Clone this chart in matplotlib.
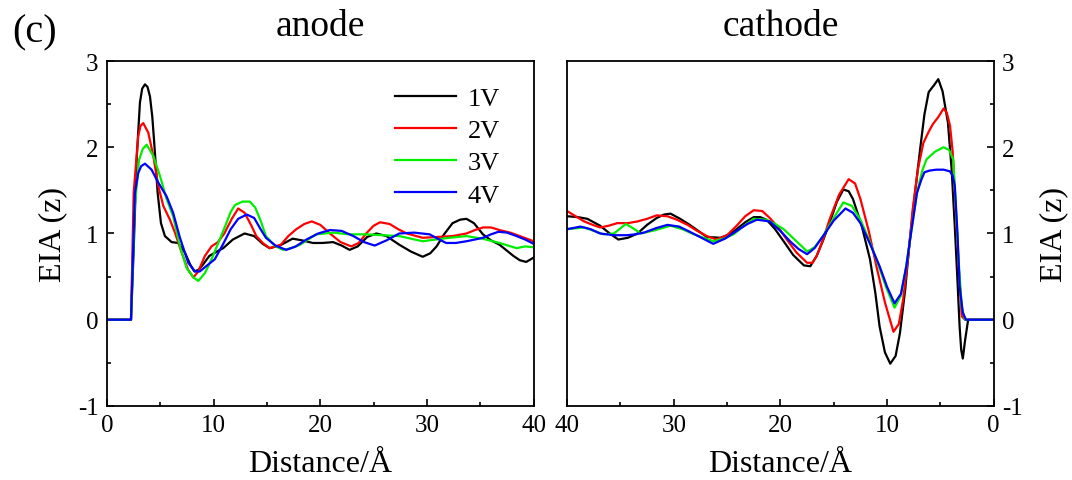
import matplotlib
matplotlib.use('Agg')
import matplotlib.pyplot as plt
from matplotlib.ticker import MultipleLocator

plt.rcParams['font.family'] = ['Liberation Serif', 'DejaVu Serif']
plt.rcParams['axes.unicode_minus'] = False

# anode side: distance (A) and EIA values
anode_x1 = [0, 2.25, 2.5, 2.78, 3.09, 3.3, 3.56, 3.8, 4.03, 4.25, 4.43, 4.75, 5.06, 5.43, 6.06, 6.68,
            7.3, 7.8, 8.2, 8.6, 9.0, 9.6, 10.3, 10.9, 11.8, 12.9, 13.8, 14.6, 15.25, 16.2, 17.4,
            18.3, 19.3, 20.2, 21.2, 22.0, 22.75, 23.5, 24.4, 25.25, 26.2, 27.4, 28.5, 29.6, 30.3,
            30.9, 31.6, 32.4, 33.1, 33.7, 34.4, 35.25, 36.0, 36.8, 37.5, 38.1, 38.7, 39.3, 40]
anode_y1 = [0, 0, 0.8, 1.86, 2.52, 2.68, 2.73, 2.70, 2.59, 2.35, 2.05, 1.47, 1.12, 0.97, 0.90, 0.89,
            0.78, 0.64, 0.56, 0.58, 0.64, 0.74, 0.79, 0.83, 0.93, 1.0, 0.97, 0.88, 0.83, 0.86, 0.94,
            0.92, 0.89, 0.89, 0.90, 0.86, 0.81, 0.85, 0.96, 1.0, 0.97, 0.87, 0.79, 0.73, 0.77,
            0.85, 0.99, 1.12, 1.16, 1.17, 1.12, 0.99, 0.92, 0.87, 0.80, 0.74, 0.69, 0.67, 0.72]
anode_x2 = [0, 2.25, 2.5, 2.93, 3.15, 3.4, 3.87, 4.34, 4.81, 5.28, 5.9, 6.37, 7.0, 7.6, 8.1, 8.56,
            9.18, 9.8, 10.4, 11.0, 11.7, 12.3, 12.9, 13.5, 14.0, 14.6, 15.25, 16.3, 17.0, 17.75,
            18.5, 19.2, 20.0, 20.9, 21.9, 22.9, 23.6, 24.3, 25.0, 25.6, 26.5, 27.3, 28.1, 29.6,
            31.0, 32.4, 33.7, 34.5, 35.25, 36.0, 36.8, 37.8, 38.7, 40]
anode_y2 = [0, 0, 1.47, 2.13, 2.25, 2.28, 2.17, 1.90, 1.55, 1.32, 1.16, 1.01, 0.78, 0.58, 0.49, 0.56,
            0.74, 0.85, 0.90, 1.0, 1.17, 1.29, 1.24, 1.10, 0.97, 0.89, 0.83, 0.87, 0.97, 1.05,
            1.11, 1.14, 1.10, 1.0, 0.90, 0.85, 0.89, 1.0, 1.09, 1.13, 1.11, 1.05, 1.0, 0.95,
            0.96, 0.97, 1.0, 1.04, 1.07, 1.07, 1.04, 1.01, 0.97, 0.91]
anode_x3 = [0, 2.25, 2.6, 3.0, 3.35, 3.72, 4.34, 4.96, 5.59, 6.2, 6.84, 7.46, 8.1, 8.56, 9.18, 9.8,
            10.4, 11.0, 11.6, 12.0, 12.7, 13.4, 13.9, 14.4, 14.9, 15.7, 16.5, 17.3, 18.1, 19.6,
            21.2, 22.7, 24.3, 25.8, 27.4, 28.5, 29.6, 30.8, 32.1, 33.7, 35.2, 36.8, 37.6, 38.4,
            39.2, 40]
anode_y3 = [0, 0, 1.3, 1.85, 1.98, 2.03, 1.90, 1.67, 1.40, 1.20, 0.85, 0.60, 0.49, 0.45, 0.54, 0.70,
            0.88, 1.06, 1.25, 1.33, 1.37, 1.37, 1.30, 1.15, 0.97, 0.86, 0.81, 0.83, 0.87, 0.99,
            1.01, 0.99, 0.99, 0.98, 0.97, 0.94, 0.91, 0.93, 0.95, 0.97, 0.94, 0.89, 0.86, 0.83,
            0.85, 0.84]
anode_x4 = [0, 2.25, 2.62, 2.93, 3.2, 3.56, 4.18, 4.81, 5.59, 6.2, 6.84, 7.62, 8.24, 8.7, 9.49,
            10.1, 10.9, 11.6, 12.3, 13.1, 13.8, 14.4, 14.9, 15.8, 16.8, 17.7, 18.7, 19.8, 20.9,
            22.0, 23.1, 24.1, 25.1, 26.2, 27.4, 28.8, 30.25, 31.0, 31.8, 32.7, 33.7, 34.5, 35.25,
            36.0, 36.7, 37.5, 38.4, 39.2, 40]
anode_y4 = [0, 0, 1.47, 1.70, 1.78, 1.81, 1.74, 1.59, 1.43, 1.24, 0.95, 0.66, 0.56, 0.56, 0.64,
            0.70, 0.88, 1.05, 1.17, 1.22, 1.18, 1.05, 0.95, 0.86, 0.81, 0.85, 0.93, 1.0, 1.04,
            1.03, 0.97, 0.90, 0.86, 0.92, 1.0, 1.01, 0.99, 0.94, 0.89, 0.89, 0.91, 0.93, 0.95,
            0.99, 1.02, 1.01, 0.97, 0.93, 0.88]

# cathode side (axis runs from 40 down to 0)
cath_x1 = [40, 39.0, 38.1, 37.5, 36.9, 36.0, 35.2, 34.3, 33.4, 32.5, 31.6, 30.9, 30.3, 29.4, 28.5,
           27.7, 26.9, 25.6, 24.8, 24.1, 23.3, 22.5, 21.9, 21.3, 20.5, 19.7, 18.8, 17.8, 17.2,
           16.6, 16.0, 15.4, 14.7, 14.1, 13.6, 13.2, 12.4, 11.6, 11.1, 10.7, 10.2, 9.7, 9.2, 8.8,
           8.3, 7.9, 7.4, 6.9, 6.5, 6.1, 5.6, 5.2, 4.8, 4.3, 3.95, 3.65, 3.4, 3.2, 3.05, 2.9,
           2.7, 2.4, 0]
cath_y1 = [1.20, 1.19, 1.17, 1.13, 1.09, 1.0, 0.93, 0.95, 1.0, 1.10, 1.18, 1.22, 1.23, 1.17, 1.10,
           1.03, 0.96, 0.95, 0.99, 1.05, 1.13, 1.19, 1.19, 1.16, 1.05, 0.91, 0.75, 0.63, 0.62,
           0.74, 0.92, 1.12, 1.37, 1.51, 1.49, 1.40, 1.10, 0.70, 0.31, -0.08, -0.38, -0.51, -0.42,
           -0.16, 0.35, 0.89, 1.45, 1.98, 2.38, 2.64, 2.72, 2.79, 2.65, 2.29, 1.75, 1.08, 0.45,
           -0.08, -0.35, -0.45, -0.25, 0, 0]
cath_x2 = [40, 39.2, 38.4, 37.6, 36.9, 36.1, 35.3, 34.3, 33.4, 32.5, 31.6, 30.6, 29.7, 28.7, 27.8,
           26.9, 26.0, 25.0, 24.1, 23.3, 22.5, 21.7, 21.0, 20.2, 19.4, 18.5, 17.5, 17.0, 16.6,
           16.0, 15.4, 14.5, 13.6, 13.0, 12.5, 11.7, 11.0, 10.2, 9.4, 8.9, 8.5, 8.0, 7.6, 7.1,
           6.6, 6.1, 5.7, 5.2, 4.7, 4.4, 4.1, 3.85, 3.65, 3.3, 3.0, 2.7, 0]
cath_y2 = [1.26, 1.20, 1.14, 1.10, 1.07, 1.09, 1.12, 1.12, 1.14, 1.17, 1.21, 1.20, 1.16, 1.10, 1.03,
           0.97, 0.93, 0.98, 1.09, 1.20, 1.27, 1.26, 1.18, 1.07, 0.93, 0.78, 0.66, 0.66, 0.74,
           0.93, 1.16, 1.45, 1.63, 1.58, 1.40, 1.02, 0.62, 0.20, -0.14, -0.05, 0.23, 0.75, 1.28,
           1.75, 2.05, 2.18, 2.27, 2.35, 2.45, 2.40, 2.25, 1.95, 1.47, 0.65, 0.04, 0, 0]
cath_x3 = [40, 39.2, 38.4, 37.5, 36.6, 35.6, 35.0, 34.5, 33.8, 33.1, 31.7, 30.3, 29.2, 28.1, 27.2,
           26.3, 25.3, 24.4, 23.4, 22.5, 21.3, 20.5, 19.7, 19.1, 18.5, 17.9, 17.5, 16.8, 16.0,
           15.0, 14.1, 13.3, 12.5, 11.7, 11.0, 10.1, 9.3, 8.7, 8.2, 7.7, 7.2, 6.7, 6.3, 5.5,
           4.7, 4.2, 3.8, 3.55, 3.3, 3.0, 2.7, 0]
cath_y3 = [1.05, 1.06, 1.07, 1.03, 0.99, 1.0, 1.06, 1.11, 1.06, 1.0, 1.04, 1.09, 1.05, 0.99, 0.95,
           0.91, 0.94, 0.99, 1.09, 1.17, 1.16, 1.11, 1.05, 0.98, 0.91, 0.84, 0.79, 0.84, 0.97,
           1.18, 1.36, 1.32, 1.16, 0.93, 0.70, 0.38, 0.14, 0.28, 0.62, 1.05, 1.47, 1.73, 1.86,
           1.95, 2.0, 1.97, 1.86, 1.30, 0.70, 0.15, 0, 0]
cath_x4 = [40, 38.75, 37.8, 36.9, 35.6, 34.4, 33.6, 32.8, 31.7, 30.6, 29.5, 28.5, 27.4, 26.3, 25.2,
           24.1, 23.1, 22.2, 21.0, 20.0, 19.1, 18.3, 17.5, 16.8, 16.0, 15.0, 13.9, 13.2, 12.5,
           11.6, 10.7, 10.0, 9.3, 8.7, 8.2, 7.7, 7.2, 6.8, 6.5, 6.0, 5.4, 4.7, 4.1, 3.85, 3.65,
           3.4, 3.2, 2.9, 2.6, 0]
cath_y4 = [1.05, 1.08, 1.05, 1.0, 0.98, 0.98, 0.99, 1.01, 1.06, 1.10, 1.08, 1.02, 0.95, 0.88, 0.94,
           1.03, 1.11, 1.16, 1.14, 1.03, 0.91, 0.82, 0.76, 0.83, 0.97, 1.15, 1.29, 1.24, 1.12,
           0.88, 0.62, 0.38, 0.19, 0.30, 0.62, 1.05, 1.47, 1.62, 1.71, 1.73, 1.74, 1.74, 1.72,
           1.67, 1.55, 1.0, 0.39, 0.08, 0, 0]

labels = ['1V', '2V', '3V', '4V']
colors = ['black', '#ff0000', '#00ee00', '#0000ff']

fig = plt.figure(figsize=(10.72, 4.81), dpi=100)
ax1 = fig.add_axes([0.0998, 0.154, 0.398, 0.717])
ax2 = fig.add_axes([0.529, 0.154, 0.398, 0.717])

anode = [(anode_x1, anode_y1), (anode_x2, anode_y2), (anode_x3, anode_y3), (anode_x4, anode_y4)]
cath = [(cath_x1, cath_y1), (cath_x2, cath_y2), (cath_x3, cath_y3), (cath_x4, cath_y4)]

for (x, y), c, lab in zip(anode, colors, labels):
    ax1.plot(x, y, color=c, lw=1.6, label=lab)
for (x, y), c in zip(cath, colors):
    ax2.plot(x, y, color=c, lw=1.6)

for ax in (ax1, ax2):
    ax.set_ylim(-1, 3)
    ax.yaxis.set_major_locator(MultipleLocator(1))
    ax.yaxis.set_minor_locator(MultipleLocator(0.5))
    ax.xaxis.set_major_locator(MultipleLocator(10))
    ax.xaxis.set_minor_locator(MultipleLocator(5))
    ax.tick_params(which='both', direction='in', labelsize=18, top=False, pad=6)
    ax.tick_params(which='major', length=5, width=1.2)
    ax.tick_params(which='minor', length=3, width=1.2)
    for s in ax.spines.values():
        s.set_linewidth(1.3)
    ax.set_xlabel('Distance/Å', fontsize=23, labelpad=9)

ax1.set_xlim(0, 40)
ax1.tick_params(which='both', left=True, right=False)
ax1.set_ylabel('EIA (z)', fontsize=23, labelpad=8)
ax1.set_title('anode', fontsize=27, pad=19)

ax2.set_xlim(40, 0)
ax2.yaxis.tick_right()
ax2.yaxis.set_label_position('right')
ax2.tick_params(which='both', left=False, right=True)
ax2.set_ylabel('EIA (z)', fontsize=23, labelpad=12)
ax2.set_title('cathode', fontsize=27, pad=19)

ax1.legend(loc='upper left', bbox_to_anchor=(0.62, 0.995), frameon=False, fontsize=19,
           handlelength=2.3, labelspacing=0.33, handletextpad=0.45)

fig.text(0.011, 0.911, '(c)', fontsize=29, va='baseline')

fig.savefig('out.png', dpi=100)
